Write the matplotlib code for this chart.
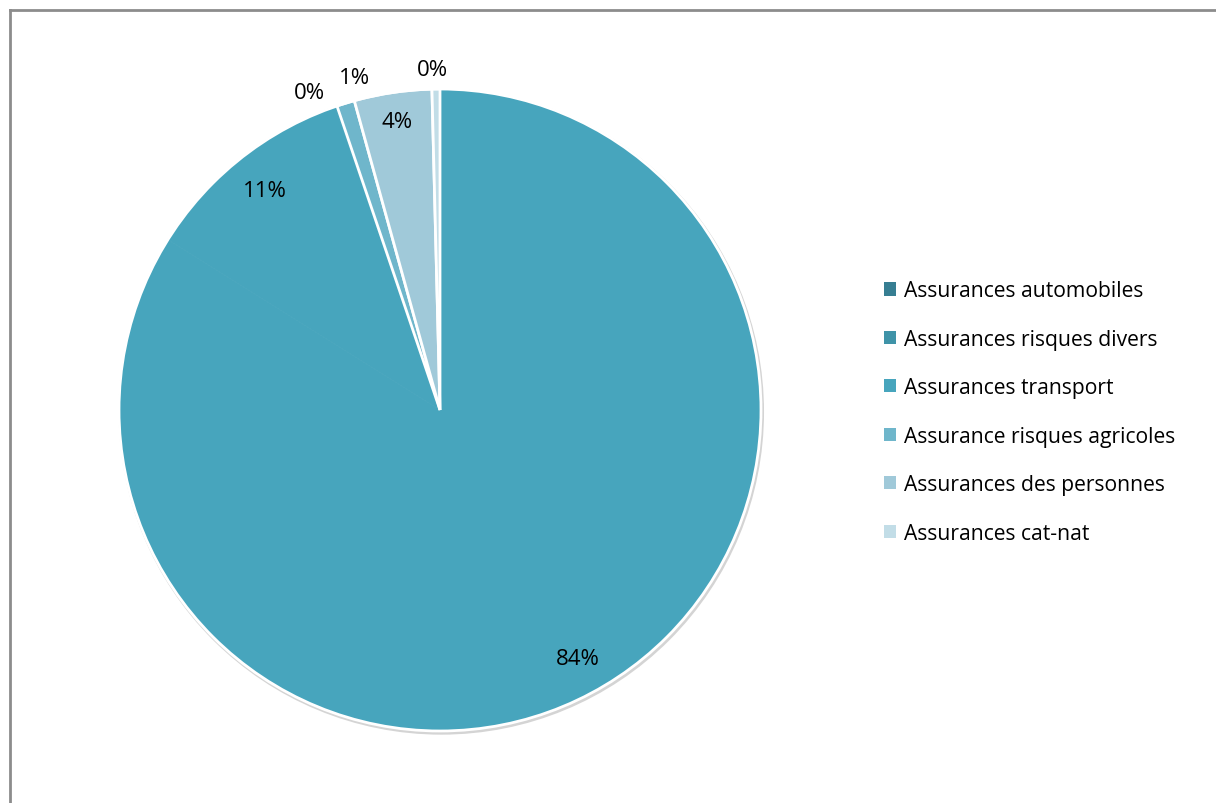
import numpy as np
import matplotlib
matplotlib.use("Agg")
import matplotlib.pyplot as plt
from matplotlib.patches import Patch, Circle
from matplotlib.lines import Line2D

categories = ["Assurances automobiles", "Assurances risques divers", "Assurances transport",
              "Assurance risques agricoles", "Assurances des personnes", "Assurances cat-nat"]
values = [83.9, 10.8, 0.1, 0.9, 3.9, 0.4]
pct_labels = ["84%", "11%", "0%", "1%", "4%", "0%"]

legend_colors = ["#367E92", "#3F93A8", "#47A5BD", "#6FB6CB", "#A0C9D9", "#C2DDE7"]
slice_colors = ["#47A5BD", "#47A5BD", "#47A5BD", "#6FB6CB", "#A0C9D9", "#C2DDE7"]

plt.rcParams['font.family'] = ['Open Sans', 'DejaVu Sans']

W, H = 1216, 804
fig = plt.figure(figsize=(W / 100, H / 100), dpi=100)

# chart frame (only left and top edges are inside the picture)
fig.add_artist(Line2D([10 / W, 10 / W], [0, 1 - 11 / H], transform=fig.transFigure, color="#8c8c8c", lw=2))
fig.add_artist(Line2D([10 / W, 1], [1 - 11 / H, 1 - 11 / H], transform=fig.transFigure, color="#8c8c8c", lw=2))

cx, cy, r = 440, 411, 321
ax = fig.add_axes([(cx - r) / W, (H - cy - r) / H, 2 * r / W, 2 * r / H])

ax.add_patch(Circle((0.004, -0.006), 1.0, facecolor="none", edgecolor="#d4d4d4", lw=2.5, zorder=0,
                    clip_on=False))
wedges, _ = ax.pie(values, colors=slice_colors, startangle=90, counterclock=False, radius=1.0,
                   wedgeprops=dict(edgecolor="white", linewidth=2, clip_on=False))
# no visible seam between the big slices, the tiny transport slice melts in
for i in (0, 1, 2):
    wedges[i].set_edgecolor(slice_colors[i])
    wedges[i].set_linewidth(0.5)
ax.add_patch(Circle((0, 0), 1.0, facecolor="none", edgecolor="white", lw=2, zorder=5, clip_on=False))
ax.set_xlim(-1, 1)
ax.set_ylim(-1, 1)
ax.set_aspect("equal")
ax.axis("off")

dist = [0.885, 0.875, 1.07, 1.07, 0.91, 1.06]
nudge = [0, 0, 3.5, -2.7, 0, 0.5]
for w, lab, d, n in zip(wedges, pct_labels, dist, nudge):
    a = np.deg2rad((w.theta1 + w.theta2) / 2 + n)
    ax.text(d * np.cos(a), d * np.sin(a), lab, ha="center", va="center", fontsize=16, color="black",
            zorder=6, clip_on=False)

handles = [Patch(facecolor=c, edgecolor="none") for c in legend_colors]
fig.legend(handles, categories, loc="center left", bbox_to_anchor=(884 / W, 1 - 413 / H),
           frameon=False, fontsize=15.2, labelspacing=1.3, handlelength=0.58, handleheight=0.58,
           handletextpad=0.35, borderpad=0, borderaxespad=0)

fig.savefig("out.png", dpi=100, facecolor="white")
